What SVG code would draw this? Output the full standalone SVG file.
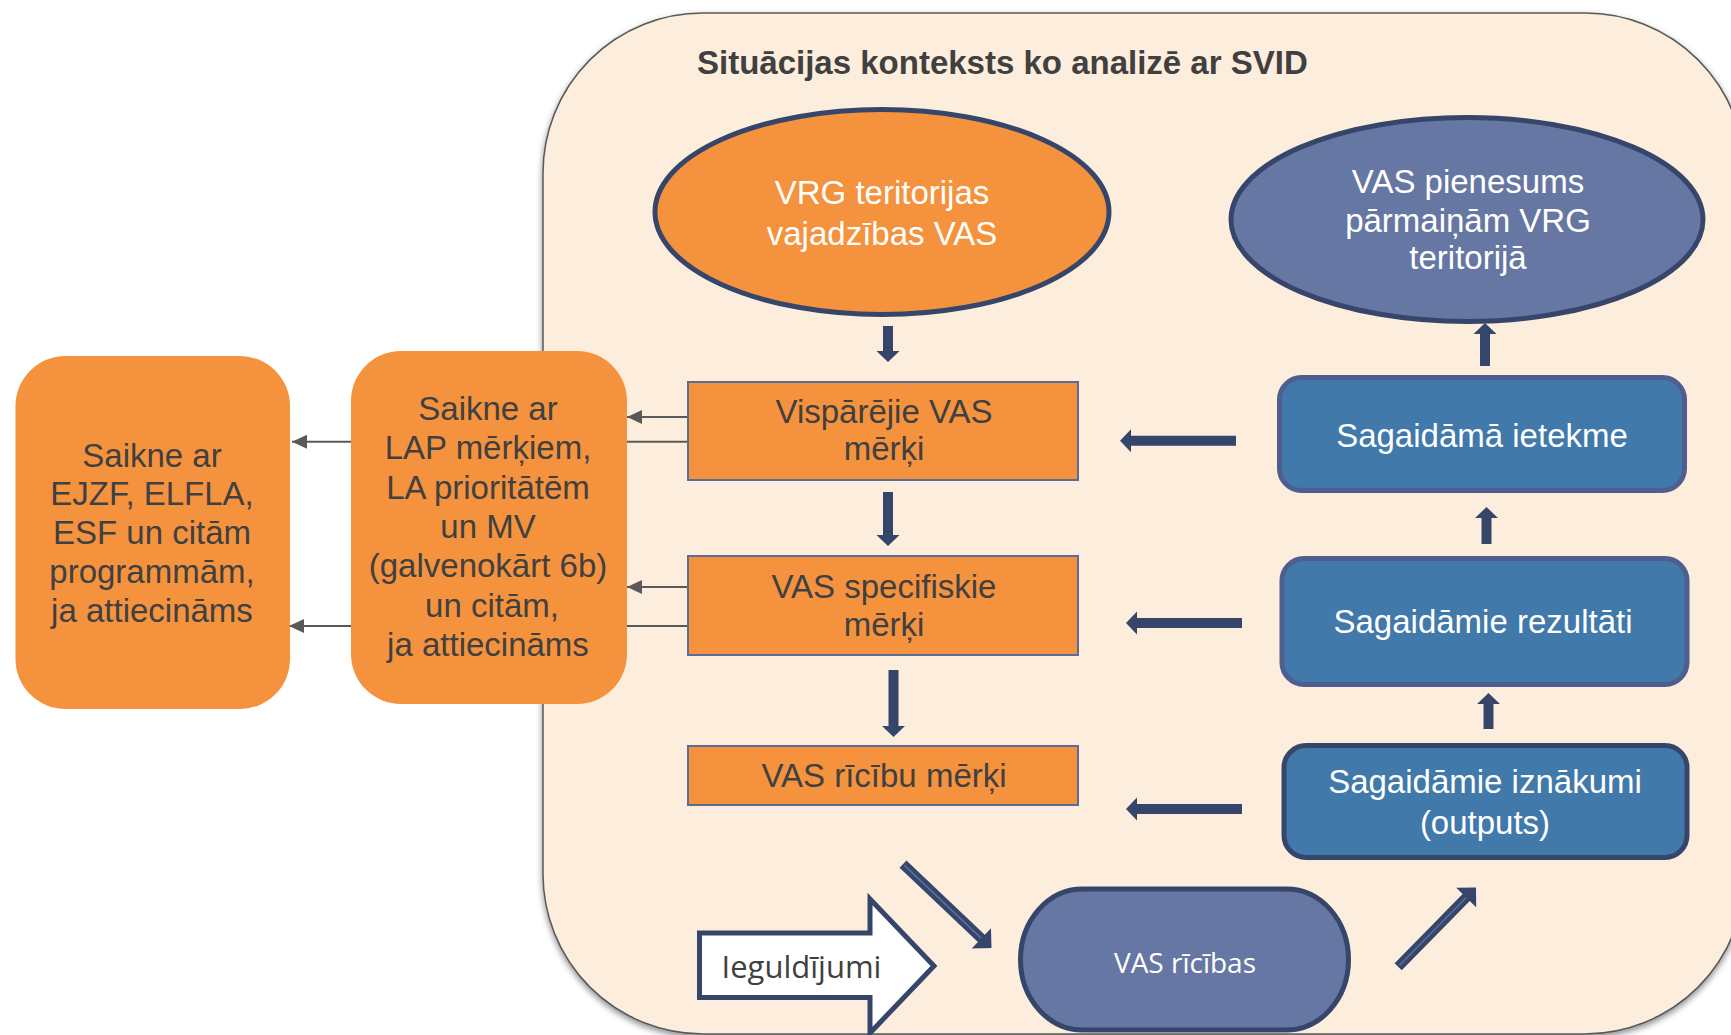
<svg xmlns="http://www.w3.org/2000/svg" width="1731" height="1035" viewBox="0 0 1731 1035">
<defs>
<style>
.t{font-family:"Liberation Sans",Arial,sans-serif;font-size:33px;text-anchor:middle}
.dk{fill:#404040}
.wh{fill:#ffffff}
.cal{font-family:"Open Sans","Liberation Sans",sans-serif;text-anchor:middle}
.org{fill:#F5923E}
.orect{fill:#F5923E;stroke:#5B6B9A;stroke-width:2}
.brect{fill:#4179AB;stroke-width:5}
.nav{fill:#36466A}
.grey{stroke:#595959;stroke-width:2;fill:none}
</style>
<marker id="ga" markerUnits="userSpaceOnUse" markerWidth="16" markerHeight="16" refX="15" refY="7" orient="auto">
<path d="M0,0 L15,7 L0,14 Z" fill="#595959"/>
</marker>
<filter id="sh" x="-5%" y="-5%" width="110%" height="110%">
<feDropShadow dx="0" dy="3" stdDeviation="3" flood-color="#000" flood-opacity="0.45"/>
</filter>
</defs>
<rect x="0" y="0" width="1731" height="1035" fill="#ffffff"/>

<g id="context">
<rect x="543" y="13" width="1202" height="1021" rx="160" ry="160" fill="#FDEDDC" stroke="#595959" stroke-width="1.5" filter="url(#sh)"/>
<text x="697" y="74" style="font-family:'Liberation Sans',Arial,sans-serif;font-size:33px;font-weight:bold" fill="#404040">Situācijas konteksts ko analizē ar SVID</text>
</g>

<g id="connectors">
<path class="grey" d="M687,417 H627" marker-end="url(#ga)"/>
<path class="grey" d="M687,441.7 H292" marker-end="url(#ga)"/>
<path class="grey" d="M687,587 H627" marker-end="url(#ga)"/>
<path class="grey" d="M687,626 H289" marker-end="url(#ga)"/>
<g class="nav">
<path transform="translate(888,362) rotate(90)" d="M-36,-5 L-11,-5 L-11,-11.5 L0,0 L-11,11.5 L-11,5 L-36,5 Z"/>
<path transform="translate(888,546) rotate(90)" d="M-54,-5 L-11,-5 L-11,-11.5 L0,0 L-11,11.5 L-11,5 L-54,5 Z"/>
<path transform="translate(893.5,737) rotate(90)" d="M-67,-5 L-11,-5 L-11,-11.5 L0,0 L-11,11.5 L-11,5 L-67,5 Z"/>
<path transform="translate(1485,323) rotate(-90)" d="M-43,-5 L-11,-5 L-11,-11.5 L0,0 L-11,11.5 L-11,5 L-43,5 Z"/>
<path transform="translate(1486.5,507) rotate(-90)" d="M-37,-5 L-11,-5 L-11,-11.5 L0,0 L-11,11.5 L-11,5 L-37,5 Z"/>
<path transform="translate(1488.5,693) rotate(-90)" d="M-36,-5 L-11,-5 L-11,-11.5 L0,0 L-11,11.5 L-11,5 L-36,5 Z"/>
<path transform="translate(1120,440.7) rotate(180)" d="M-116,-5 L-11,-5 L-11,-11.5 L0,0 L-11,11.5 L-11,5 L-116,5 Z"/>
<path transform="translate(1126,623) rotate(180)" d="M-116,-5 L-11,-5 L-11,-11.5 L0,0 L-11,11.5 L-11,5 L-116,5 Z"/>
<path transform="translate(1126,809) rotate(180)" d="M-116,-5 L-11,-5 L-11,-11.5 L0,0 L-11,11.5 L-11,5 L-116,5 Z"/>
<path transform="translate(991.5,948) rotate(43.5)" d="M-122,-5 L-14,-5 L-14,-14 L0,0 L-14,14 L-14,5 L-122,5 Z"/>
<path transform="translate(1476,887.5) rotate(-45.5)" d="M-111,-5 L-14,-5 L-14,-14 L0,0 L-14,14 L-14,5 L-111,5 Z"/>
</g>
<path transform="translate(991.5,948) rotate(43.5)" d="M-120,0 H-14" stroke="#5D6E9E" stroke-width="1.5"/>
<path transform="translate(1476,887.5) rotate(-45.5)" d="M-109,0 H-14" stroke="#5D6E9E" stroke-width="1.5"/>
</g>

<g id="node-saikne-fondi">
<rect x="15.5" y="356" width="274.5" height="353" rx="50" ry="50" class="org"/>
<text class="t dk" x="152"><tspan x="152" y="466.5">Saikne ar</tspan><tspan x="152" y="505.3">EJZF, ELFLA,</tspan><tspan x="152" y="544.1">ESF un citām</tspan><tspan x="152" y="582.9">programmām,</tspan><tspan x="152" y="621.7">ja attiecināms</tspan></text>
</g>

<g id="node-saikne-lap">
<rect x="351" y="351" width="276" height="353" rx="50" ry="50" class="org"/>
<text class="t dk" x="488"><tspan x="488" y="420">Saikne ar</tspan><tspan x="488" y="459.3">LAP mērķiem,</tspan><tspan x="488" y="498.6">LA prioritātēm</tspan><tspan x="488" y="537.9">un MV</tspan><tspan x="488" y="577.2">(galvenokārt 6b)</tspan><tspan x="492" y="616.5">un citām,</tspan><tspan x="488" y="655.8">ja attiecināms</tspan></text>
</g>

<g id="node-vrg-vajadzibas">
<ellipse cx="882" cy="212" rx="227" ry="102.5" fill="#F5923E" stroke="#36466A" stroke-width="5"/>
<text class="t wh"><tspan x="882" y="204">VRG teritorijas</tspan><tspan x="882" y="245">vajadzības VAS</tspan></text>
</g>

<g id="node-vas-pienesums">
<ellipse cx="1467" cy="219.5" rx="236" ry="102" fill="#6677A3" stroke="#36466A" stroke-width="5"/>
<text class="t wh"><tspan x="1468" y="193">VAS pienesums</tspan><tspan x="1468" y="231.5">pārmaiņām VRG</tspan><tspan x="1468" y="269">teritorijā</tspan></text>
</g>

<g id="node-visparejie">
<rect x="688" y="382" width="390" height="98" class="orect"/>
<text class="t dk"><tspan x="884" y="423">Vispārējie VAS</tspan><tspan x="884" y="460">mērķi</tspan></text>
</g>

<g id="node-specifiskie">
<rect x="688" y="556" width="390" height="99" class="orect"/>
<text class="t dk"><tspan x="884" y="598">VAS specifiskie</tspan><tspan x="884" y="636">mērķi</tspan></text>
</g>

<g id="node-ricibu-merki">
<rect x="688" y="746" width="390" height="59" class="orect"/>
<text class="t dk" x="884" y="787">VAS rīcību mērķi</text>
</g>

<g id="node-ietekme">
<rect x="1279.5" y="377.5" width="405" height="113" rx="22" ry="22" class="brect" stroke="#4E5F8F"/>
<text class="t wh" x="1482" y="447">Sagaidāmā ietekme</text>
</g>

<g id="node-rezultati">
<rect x="1282" y="558.5" width="405" height="126" rx="22" ry="22" class="brect" stroke="#4E5F8F"/>
<text class="t wh" x="1483" y="633">Sagaidāmie rezultāti</text>
</g>

<g id="node-iznakumi">
<rect x="1284" y="745.5" width="403" height="112" rx="22" ry="22" class="brect" stroke="#36466A"/>
<text class="t wh"><tspan x="1485" y="793">Sagaidāmie iznākumi</tspan><tspan x="1485" y="834">(outputs)</tspan></text>
</g>

<g id="node-ieguldijumi">
<path d="M699.5,933 L870,933 L870,899 L934,966 L870,1033 L870,997.5 L699.5,997.5 Z" fill="#ffffff" stroke="#36466A" stroke-width="5"/>
<text class="cal dk" x="801.5" y="978" style="font-size:31px">Ieguldījumi</text>
</g>

<g id="node-vas-ricibas">
<rect x="1020.5" y="889" width="328" height="141" rx="62" ry="70.5" fill="#6677A3" stroke="#36466A" stroke-width="5"/>
<text class="cal wh" x="1185" y="973" style="font-size:28px">VAS rīcības</text>
</g>
</svg>
